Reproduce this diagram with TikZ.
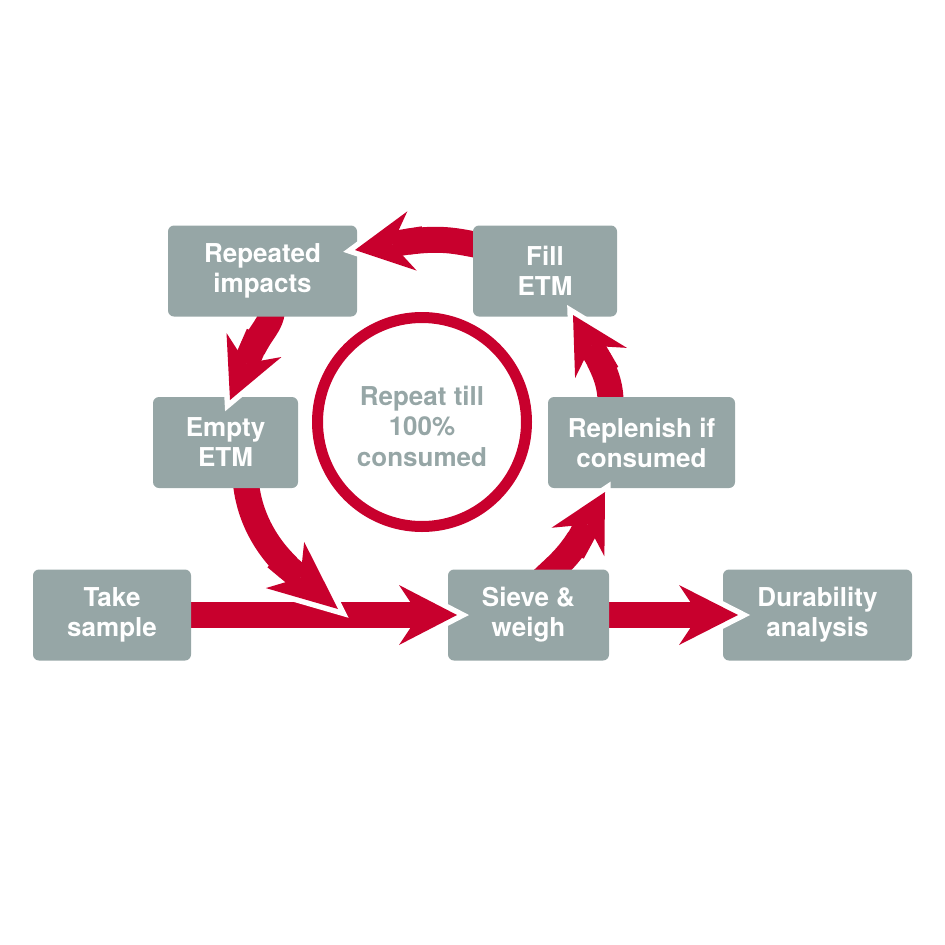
\documentclass[tikz,border=0pt]{standalone}
\usepackage{fontspec}
\setmainfont{TeX Gyre Heros}
\usetikzlibrary{calc, backgrounds}
\definecolor{etmred}{HTML}{C8002D}
\definecolor{etmgrey}{HTML}{96A6A6}

\tikzset{
  stage/.style={rectangle, rounded corners=6pt, fill=etmgrey, text=white,
    font=\bfseries\fontsize{26}{30}\selectfont, align=center,
    minimum height=91pt, inner sep=0pt},
  shaft/.style={draw=etmred, line width=26pt},
  tiprim/.style={fill=etmred, preaction={draw=white, line width=11pt, miter limit=3}}
}

% arrow head: #1 = tip, #2 = middle of its back
\newcommand{\headat}[2]{%
  \fill[tiprim] (#1) -- ($(#2)!30pt!90:(#1)$) -- ($(#2)!20pt!(#1)$)
    -- ($(#2)!30pt!-90:(#1)$) -- cycle;
  \draw[shaft] ($(#2)!-12pt!(#1)$) -- ($(#2)!20pt!(#1)$);
}

\begin{document}
\begin{tikzpicture}[x=1pt, y=-1pt]
  \useasboundingbox (0,0) rectangle (945,945);

  \node[stage, minimum width=158pt] (take) at (112,615) {Take\\sample};
  \node[stage, minimum width=161pt] (sieve) at (528.5,615) {Sieve \&\\weigh};
  \node[stage, minimum width=189pt] (dur) at (817.5,615) {Durability\\analysis};
  \node[stage, minimum width=187pt] (repl) at (641.5,442.5) {Replenish if\\consumed};
  \node[stage, minimum width=144pt] (fill) at (545,271) {Fill\\ETM};
  \node[stage, minimum width=189pt] (rep) at (262.5,271) {Repeated\\impacts};
  \node[stage, minimum width=145pt] (empty) at (225.5,442.5) {Empty\\ETM};
  \node[circle, draw=etmred, line width=11pt, minimum size=209pt, inner sep=0pt]
    (loop) at (422,422) {};
  \node[text=etmgrey, font=\bfseries\fontsize{26}{30.5}\selectfont, align=center]
    (looptext) at ([yshift=-4pt]loop.center) {Repeat till\\100\%\\consumed};

  % tips and backs of the heads
  \coordinate (t1) at (457,615); \coordinate (b1) at (399,615);
  \coordinate (t2) at (738,615); \coordinate (b2) at (679,615);
  \coordinate (t3) at (355,250); \coordinate (b3) at (412,241);
  \coordinate (t4) at (230,400); \coordinate (b4) at (254,345);
  \coordinate (t5) at (338,609); \coordinate (b5) at (285,565);
  \coordinate (t6) at (605,492); \coordinate (b6) at (578,542);
  \coordinate (t7) at (573,315); \coordinate (b7) at (601,363);

  \begin{scope}[on background layer]
    \draw[shaft] (take.east) -- ($(b1)!15pt!(t1)$);
    \draw[shaft] (sieve.east) -- ($(b2)!15pt!(t2)$);
    \draw[shaft] ([xshift=10pt,yshift=25pt]fill.west) .. controls (455,241)
      and ($(b3)!-30pt!(t3)$) .. ($(b3)!15pt!(t3)$);
    \draw[shaft] ([xshift=10pt,yshift=10pt]rep.south) .. controls (271,328)
      and ($(b4)!-20pt!(t4)$) .. ($(b4)!15pt!(t4)$);
    \draw[shaft] ([xshift=20pt,yshift=10pt]empty.south) .. controls (248,515)
      and ($(b5)!-25pt!(t5)$) .. ($(b5)!15pt!(t5)$);
    \draw[shaft] ([xshift=14.5pt,yshift=-10pt]sieve.north) .. controls (558,565)
      and ($(b6)!-15pt!(t6)$) .. ($(b6)!15pt!(t6)$);
    \draw[shaft] ([xshift=-31pt,yshift=-10pt]repl.north) .. controls (611,390)
      and ($(b7)!-15pt!(t7)$) .. ($(b7)!15pt!(t7)$);
  \end{scope}

  \headat{t1}{b1}
  \headat{t2}{b2}
  \headat{t3}{b3}
  \headat{t4}{b4}
  \headat{t5}{b5}
  \headat{t6}{b6}
  \headat{t7}{b7}
\end{tikzpicture}
\end{document}
